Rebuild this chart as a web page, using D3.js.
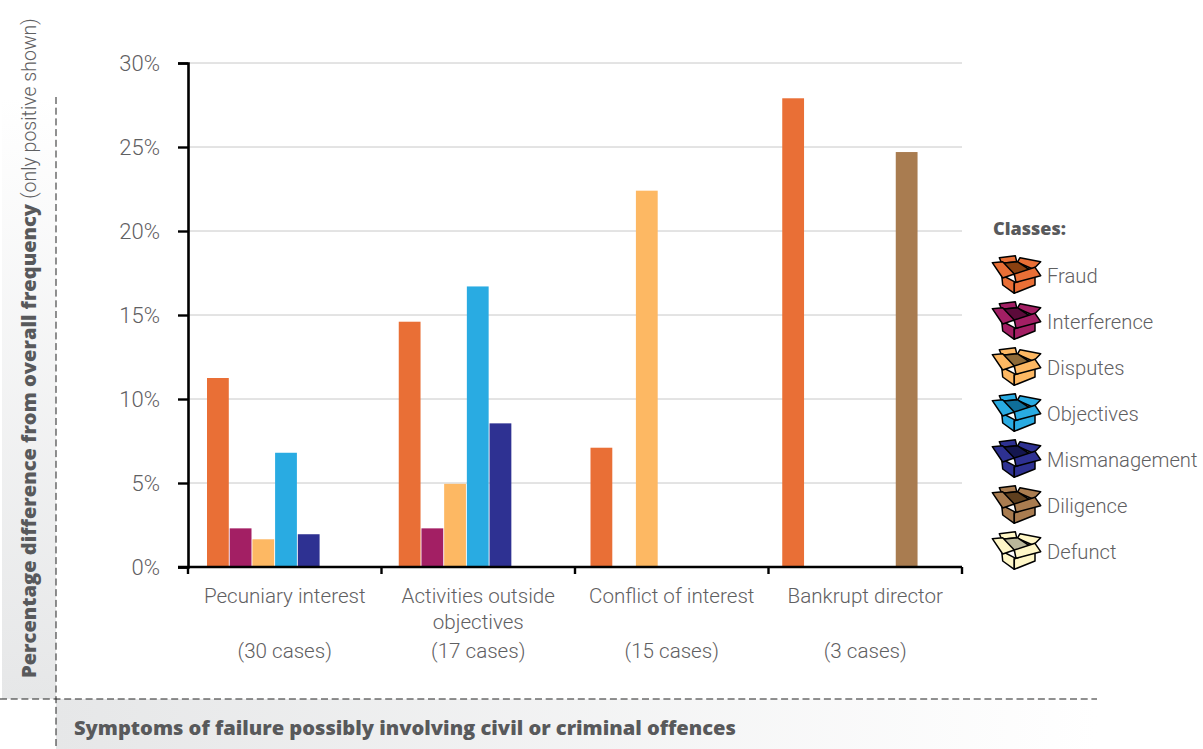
<!DOCTYPE html>
<html>
<head>
<meta charset="utf-8">
<script src="https://cdn.jsdelivr.net/npm/d3@7"></script>
<style>
  html, body { margin: 0; padding: 0; background: #fff; }
  svg { display: block; }
  text { font-family: Roboto, "Liberation Sans", sans-serif; fill: #5f6062; }
  .heavy { font-family: "Open Sans", Roboto, sans-serif; font-weight: 800; fill: #58595b; }
</style>
</head>
<body>
<svg id="chart" width="1203" height="749"></svg>
<script>
// Symptom groups along the horizontal axis
const categories = ["Pecuniary interest", "Activities outside objectives", "Conflict of interest", "Bankrupt director"];
const caseCounts = ["(30 cases)", "(17 cases)", "(15 cases)", "(3 cases)"];

// Failure classes in legend order
const classes = ["Fraud", "Interference", "Disputes", "Objectives", "Mismanagement", "Diligence", "Defunct"];
const classColors = ["#E96F36", "#A31F64", "#FDB863", "#29ABE2", "#2E3192", "#A97C50", "#FFF7C7"];
const flapShades = ["#8A4010", "#5C0A3A", "#8E6A38", "#0F6E9A", "#14164F", "#5E3F1E", "#B9B79A"];

// Percentage difference per class, one array per symptom group (0 = not shown)
const pecuniary = [11.25, 2.3, 1.65, 6.8, 1.95, 0, 0];
const activities = [14.6, 2.3, 4.95, 16.7, 8.55, 0, 0];
const conflict = [7.1, 0, 22.4, 0, 0, 0, 0];
const bankrupt = [27.9, 0, 0, 0, 0, 24.7, 0];
const seriesByCategory = [pecuniary, activities, conflict, bankrupt];

const yTicks = [0, 5, 10, 15, 20, 25, 30];

const svg = d3.select("#chart");
const defs = svg.append("defs");

// Background panels that fade out toward the top and the right
const sideFade = defs.append("linearGradient").attr("id", "sideFade")
  .attr("x1", 0).attr("y1", 1).attr("x2", 0).attr("y2", 0);
sideFade.append("stop").attr("offset", 0).attr("stop-color", "#e6e7e8");
sideFade.append("stop").attr("offset", 1).attr("stop-color", "#ffffff");
const baseFade = defs.append("linearGradient").attr("id", "baseFade")
  .attr("x1", 0).attr("y1", 0).attr("x2", 1).attr("y2", 0);
baseFade.append("stop").attr("offset", 0).attr("stop-color", "#e6e7e8");
baseFade.append("stop").attr("offset", 1).attr("stop-color", "#ffffff");

svg.append("rect").attr("x", 2).attr("y", 97).attr("width", 54).attr("height", 602).attr("fill", "url(#sideFade)");
svg.append("rect").attr("x", 56).attr("y", 699).attr("width", 1041).attr("height", 50).attr("fill", "url(#baseFade)");

const dashed = { stroke: "#222", "stroke-width": 1, "stroke-dasharray": "7 3.7" };
const vDash = svg.append("line").attr("x1", 56).attr("x2", 56).attr("y1", 97).attr("y2", 749);
const hDash = svg.append("line").attr("x1", 0).attr("x2", 1097).attr("y1", 699).attr("y2", 699);
Object.entries(dashed).forEach(([k, v]) => { vDash.attr(k, v); hDash.attr(k, v); });

// Scales
const y = d3.scaleLinear().domain([0, 30]).range([567, 63]);
const xAxisBand = d3.scaleBand().domain(categories).range([188, 962]);
const xGroup = d3.scaleBand().domain(categories).range([207, 974]);
const xBar = d3.scaleBand().domain(classes).range([0, 158]).paddingInner(0.04);
const color = d3.scaleOrdinal().domain(classes).range(classColors);

// Gridlines
svg.append("g").selectAll("line").data(yTicks.filter(d => d > 0)).join("line")
  .attr("x1", 188).attr("x2", 962)
  .attr("y1", d => y(d)).attr("y2", d => y(d))
  .attr("stroke", "#c8c8c8").attr("stroke-width", 1);

// Bars
const groups = svg.append("g").selectAll("g").data(categories).join("g")
  .attr("transform", d => `translate(${xGroup(d)},0)`);
groups.selectAll("rect")
  .data((d, i) => seriesByCategory[i].map((v, j) => ({ name: classes[j], value: v })).filter(e => e.value > 0))
  .join("rect")
  .attr("x", d => xBar(d.name))
  .attr("width", xBar.bandwidth())
  .attr("y", d => y(d.value))
  .attr("height", d => y(0) - y(d.value))
  .attr("fill", d => color(d.name));

// Vertical axis
const yAxis = svg.append("g").attr("transform", "translate(188,0)")
  .call(d3.axisLeft(y).tickValues(yTicks).tickSize(10).tickPadding(18).tickFormat(d => d + "%"));
yAxis.selectAll(".domain").attr("stroke", "#000").attr("stroke-width", 2.6);
yAxis.selectAll(".tick line").attr("stroke", "#000").attr("stroke-width", 2.4);
yAxis.selectAll("text").style("font-size", "22px").style("font-weight", 300).attr("fill", "#5f6062");

// Horizontal axis with ticks on the band edges
svg.append("line").attr("x1", 178).attr("x2", 962).attr("y1", 567).attr("y2", 567)
  .attr("stroke", "#000").attr("stroke-width", 2.6);
const edges = categories.map(c => xAxisBand(c)).concat([xAxisBand.range()[1]]);
svg.append("g").selectAll("line").data(edges).join("line")
  .attr("x1", d => d).attr("x2", d => d).attr("y1", 567).attr("y2", 574)
  .attr("stroke", "#000").attr("stroke-width", 2.4);

// Category labels
const labelLines = [["Pecuniary interest"], ["Activities outside", "objectives"], ["Conflict of interest"], ["Bankrupt director"]];
const labelGroups = svg.append("g").selectAll("g").data(categories).join("g");
labelGroups.each(function (c, i) {
  const g = d3.select(this);
  const cx = xAxisBand(c) + xAxisBand.bandwidth() / 2;
  labelLines[i].forEach((line, k) => {
    g.append("text").attr("x", cx).attr("y", 603 + k * 26).attr("text-anchor", "middle")
      .style("font-size", "20.6px").style("font-weight", 300).text(line);
  });
  g.append("text").attr("x", cx).attr("y", 658).attr("text-anchor", "middle")
    .style("font-size", "20.6px").style("font-weight", 300).text(caseCounts[i]);
});

// Axis titles
const yTitle = svg.append("text").attr("transform", "translate(36,678) rotate(-90)");
yTitle.append("tspan").attr("class", "heavy").style("font-size", "20.1px").text("Percentage difference from overall frequency ");
yTitle.append("tspan").style("font-size", "19.5px").style("font-weight", 300).text("(only positive shown)");

svg.append("text").attr("class", "heavy").attr("x", 74).attr("y", 735)
  .style("font-size", "20.1px").text("Symptoms of failure possibly involving civil or criminal offences");

// Legend with open-box pictograms
svg.append("text").attr("class", "heavy").attr("x", 993).attr("y", 235)
  .style("font-size", "18px").text("Classes:");

function drawBox(g, fill, dark) {
  // Flaps behind first, then the dark inside, then the front faces and front flaps
  const parts = [
    ["M7.3,1.7 L23.3,-0.3 L24.7,5.7 L9.7,7.3 Z", fill],
    ["M28,1.7 L48.7,5.7 L41.3,13.3 L25.3,6.3 Z", fill],
    ["M9.7,7.3 L25.3,5.7 L38,14 L22.3,19 Z", dark],
    ["M9.7,19 L22.3,25.7 L22.3,37.3 L10.7,29 Z", fill],
    ["M22.3,27 L43,19 L43,29 L22.3,37.3 Z", fill],
    ["M0.3,6.7 L10.7,5.7 L22.3,18 L10.7,22 Z", fill],
    ["M22.3,18 L43,11.3 L48.7,19.7 L24,26.3 Z", fill]
  ];
  parts.forEach(([d, c]) => {
    g.append("path").attr("d", d).attr("fill", c)
      .attr("stroke", "#000").attr("stroke-width", 1.5).attr("stroke-linejoin", "round");
  });
}

const legendY = d3.scaleLinear().domain([0, 6]).range([276, 552]);
const legendItems = svg.append("g").selectAll("g").data(classes).join("g")
  .attr("transform", (d, i) => `translate(0,${legendY(i)})`);
legendItems.each(function (d, i) {
  const g = d3.select(this);
  drawBox(g.append("g").attr("transform", "translate(992,-20)"), classColors[i], flapShades[i]);
  g.append("text").attr("x", 1047).attr("y", 7).style("font-size", "20.2px").style("font-weight", 300).text(d);
});
</script>
</body>
</html>
